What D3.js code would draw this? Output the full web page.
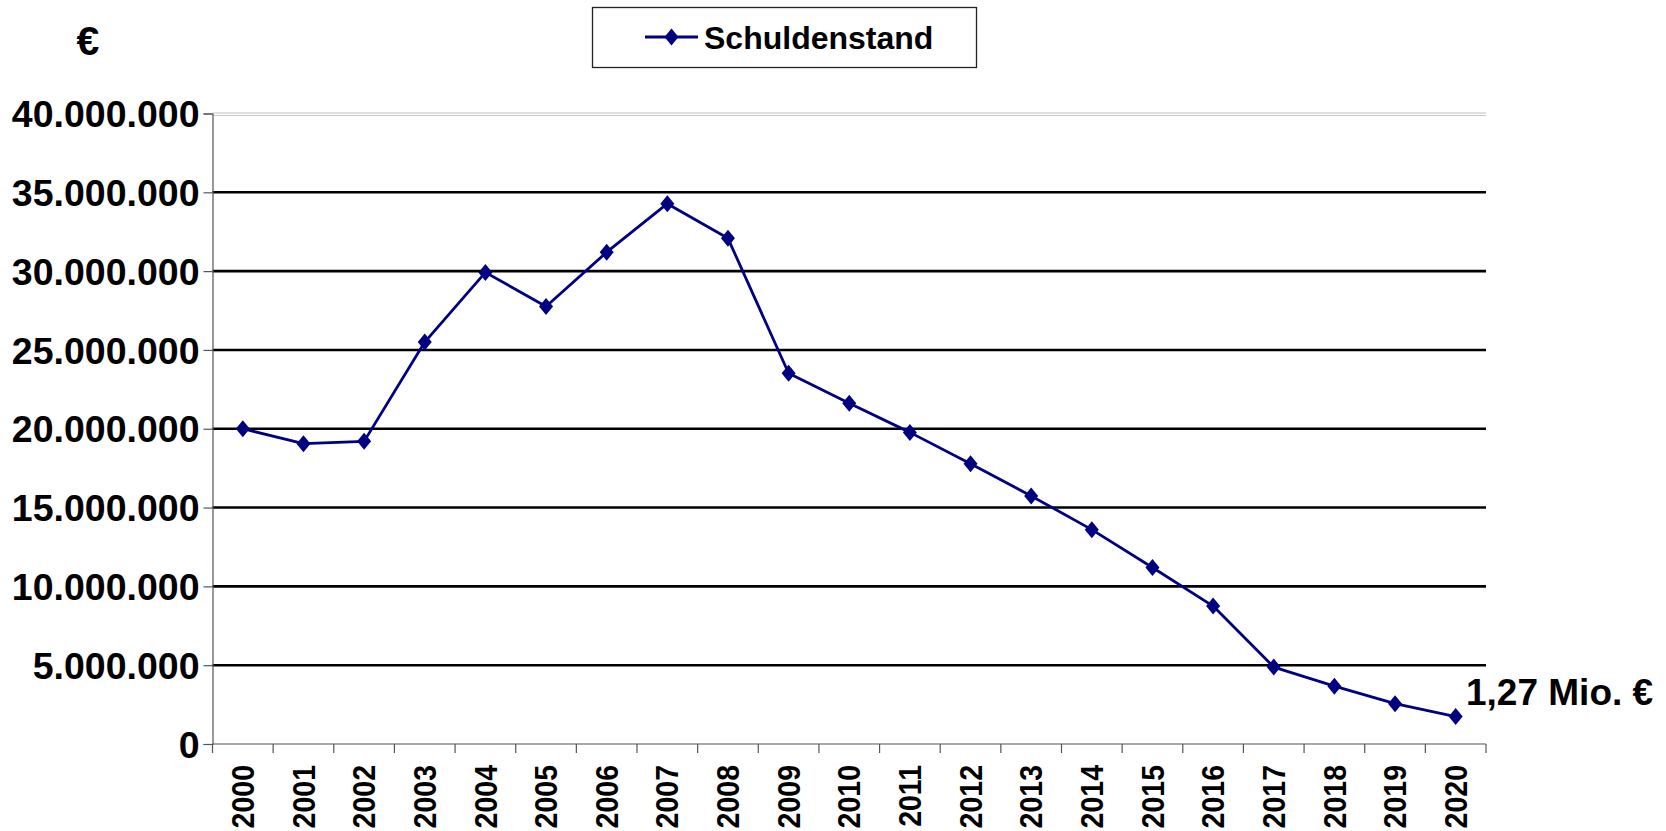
<!DOCTYPE html>
<html>
<head>
<meta charset="utf-8">
<script src="https://cdn.jsdelivr.net/npm/d3@7"></script>
<style>
  html, body { margin: 0; padding: 0; background: #fff; }
  svg { display: block; }
  text { font-family: "Liberation Sans", Arial, Helvetica, sans-serif; font-weight: bold; fill: #000; }
</style>
</head>
<body>
<svg id="chart" width="1666" height="831"></svg>
<script>
// ---- Data ----
const years = ["2000","2001","2002","2003","2004","2005","2006","2007","2008","2009","2010",
               "2011","2012","2013","2014","2015","2016","2017","2018","2019","2020"];
const schuldenstand = [20000000, 19050000, 19200000, 25500000, 29920000, 27760000, 31200000,
                       34280000, 32080000, 23520000, 21620000, 19770000, 17780000, 15740000,
                       13600000, 11200000, 8750000, 4880000, 3670000, 2560000, 1740000];
const yTicks = [0, 5000000, 10000000, 15000000, 20000000, 25000000, 30000000, 35000000, 40000000];
const seriesName = "Schuldenstand";
const unitLabel = "€";
const endLabel = "1,27 Mio. €";

// ---- Layout ----
const plot = { left: 212.5, right: 1486, top: 113.5, bottom: 744 };
const navy = "#000080";

const svg = d3.select("#chart");

const x = d3.scaleBand().domain(years).range([plot.left, plot.right]).padding(0);
const y = d3.scaleLinear().domain([0, 40000000]).range([plot.bottom, plot.top]);

const de = d3.formatLocale({ decimal: ",", thousands: ".", grouping: [3], currency: ["", " €"] });
const fmt = de.format(",d");

// Top border of plot area (light grey double line)
svg.append("line")
  .attr("x1", plot.left).attr("x2", plot.right)
  .attr("y1", y(40000000) - 0.5).attr("y2", y(40000000) - 0.5)
  .attr("stroke", "#c0c0c0").attr("stroke-width", 1);
svg.append("line")
  .attr("x1", plot.left).attr("x2", plot.right)
  .attr("y1", y(40000000) + 2).attr("y2", y(40000000) + 2)
  .attr("stroke", "#c8c8c8").attr("stroke-width", 1);

// Gridlines
svg.append("g").selectAll("line")
  .data(yTicks.filter(v => v > 0 && v < 40000000))
  .join("line")
  .attr("x1", plot.left).attr("x2", plot.right)
  .attr("y1", d => y(d)).attr("y2", d => y(d))
  .attr("stroke", "#000").attr("stroke-width", 2.6);

// Y axis
const yAxis = svg.append("g")
  .attr("transform", `translate(${plot.left},0)`)
  .call(d3.axisLeft(y).tickValues(yTicks).tickFormat(fmt).tickSize(9).tickPadding(4));
yAxis.select(".domain").attr("stroke", "#555").attr("stroke-width", 1.2);
yAxis.selectAll(".tick line").attr("stroke", "#555").attr("stroke-width", 1.2);
yAxis.selectAll(".tick text")
  .attr("font-size", 37.5)
  .attr("font-family", "'Liberation Sans', Arial, sans-serif")
  .attr("font-weight", "bold")
  .attr("fill", "#000")
  .attr("dy", "0.35em");

// X axis line
svg.append("line")
  .attr("x1", plot.left).attr("x2", plot.right)
  .attr("y1", plot.bottom).attr("y2", plot.bottom)
  .attr("stroke", "#555").attr("stroke-width", 1.2);

// X tick marks at category boundaries
const bounds = years.map(d => x(d)).concat([x(years[years.length - 1]) + x.bandwidth()]);
svg.append("g").selectAll("line")
  .data(bounds)
  .join("line")
  .attr("x1", d => d).attr("x2", d => d)
  .attr("y1", plot.bottom).attr("y2", plot.bottom + 9)
  .attr("stroke", "#555").attr("stroke-width", 1.2);

// X labels (rotated)
svg.append("g").selectAll("text")
  .data(years)
  .join("text")
  .attr("transform", d => `translate(${x(d) + x.bandwidth() / 2},765) rotate(-90) scale(0.92,1)`)
  .attr("text-anchor", "end")
  .attr("dy", "0.36em")
  .attr("font-size", 31)
  .text(d => d);

// Line
const cx = d => x(d) + x.bandwidth() / 2;
const line = d3.line().x((d, i) => cx(years[i])).y(d => y(d));
svg.append("path")
  .datum(schuldenstand)
  .attr("d", line)
  .attr("fill", "none")
  .attr("stroke", navy)
  .attr("stroke-width", 2.8)
  .attr("stroke-linejoin", "round");

// Diamond markers
const diamond = "M0,-8.5L7,0L0,8.5L-7,0Z";
svg.append("g").selectAll("path")
  .data(schuldenstand)
  .join("path")
  .attr("transform", (d, i) => `translate(${cx(years[i])},${y(d)})`)
  .attr("d", diamond)
  .attr("fill", navy);

// End label
svg.append("text")
  .attr("x", 1466).attr("y", 705)
  .attr("font-size", 37)
  .text(endLabel);

// Unit label
svg.append("text")
  .attr("x", 88).attr("y", 55)
  .attr("text-anchor", "middle")
  .attr("font-size", 41)
  .text(unitLabel);

// Legend
const lg = svg.append("g");
lg.append("rect")
  .attr("x", 592.5).attr("y", 7.5).attr("width", 384).attr("height", 60)
  .attr("fill", "#fff").attr("stroke", "#222").attr("stroke-width", 1.3);
lg.append("line")
  .attr("x1", 645).attr("x2", 698).attr("y1", 37).attr("y2", 37)
  .attr("stroke", navy).attr("stroke-width", 2.8);
lg.append("path")
  .attr("transform", "translate(671.5,37)")
  .attr("d", diamond)
  .attr("fill", navy);
lg.append("text")
  .attr("x", 704).attr("y", 48.5)
  .attr("font-size", 32)
  .text(seriesName);
</script>
</body>
</html>
